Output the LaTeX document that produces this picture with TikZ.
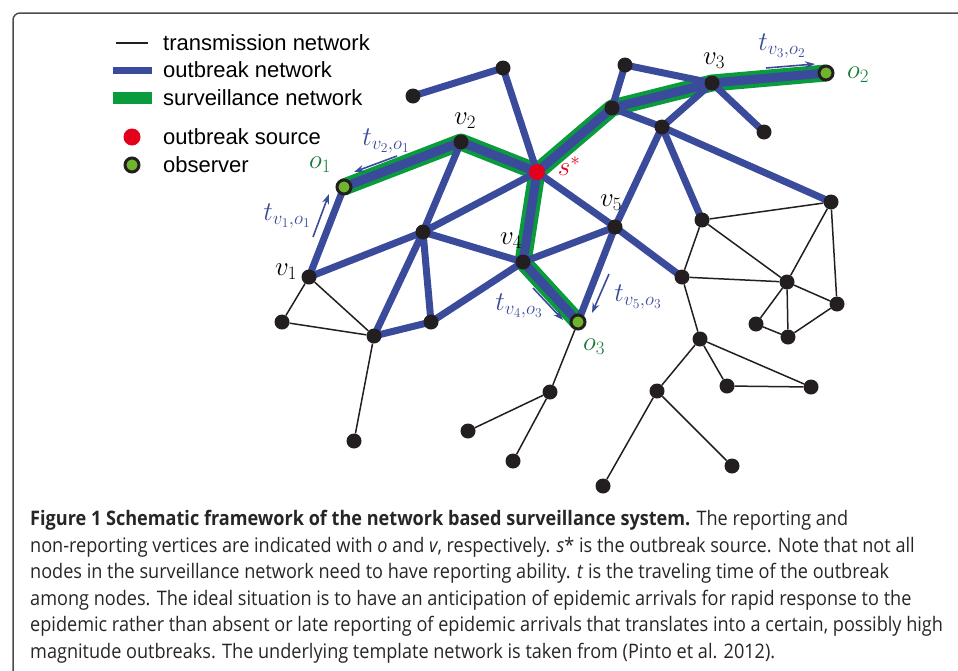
\RequirePackage{fix-cm}
\documentclass[tikz,border=0pt]{standalone}
\usepackage{fontspec}
\usetikzlibrary{arrows.meta}
\newfontfamily\legendfont{Liberation Sans}
\newfontfamily\capfont[FakeStretch=0.905]{Open Sans}
\definecolor{obblue}{RGB}{59,75,155}
\definecolor{svgreen}{RGB}{10,155,60}
\definecolor{labgreen}{RGB}{25,120,55}
\definecolor{srcred}{RGB}{226,0,26}
\definecolor{obsgreen}{RGB}{110,180,45}
\definecolor{vertblack}{RGB}{35,31,32}
\pgfdeclarelayer{background}
\pgfsetlayers{background,main}

\begin{document}
\begin{tikzpicture}[x=1pt,y=-1pt,
  vert/.style={circle,fill=vertblack,inner sep=0pt,minimum size=15pt},
  source/.style={circle,fill=srcred,inner sep=0pt,minimum size=16pt},
  observer/.style={circle,fill=obsgreen,draw=vertblack,line width=3pt,inner sep=0pt,minimum size=14pt},
  trans/.style={vertblack,line width=1.5pt},
  outbreak/.style={obblue,line width=7pt},
  surv/.style={svgreen,line width=17pt,line join=round},
  survblue/.style={obblue,line width=9pt,line join=round},
  travel/.style={obblue,line width=1.6pt,-{Stealth[length=10pt,width=7pt]}},
  lab/.style={font=\fontsize{27}{30}\selectfont,inner sep=0pt},
  legtext/.style={font=\legendfont\fontsize{22}{24}\selectfont,anchor=west,inner sep=0pt}]
\useasboundingbox (0,0) rectangle (958,670);

% Frame
\draw[black!70,line width=1.5pt,rounded corners=7pt] (13,671) -- (13,13) -- (959,13);

% Define vertices
\node[source] (s) at (537,172) {};
\node[vert] (v1) at (309,277) {};
\node[vert] (v2) at (461,142) {};
\node[vert] (v3) at (712,83) {};
\node[vert] (v4) at (523,262) {};
\node[vert] (v5) at (615,227) {};
\node[vert] (k1) at (413,96) {};
\node[vert] (k2) at (503,68) {};
\node[vert] (k3) at (423,232) {};
\node[vert] (k4) at (282,322) {};
\node[vert] (k5) at (374,336) {};
\node[vert] (k6) at (431,322) {};
\node[vert] (k7) at (354,441) {};
\node[vert] (k8) at (612,108) {};
\node[vert] (k9) at (625,65) {};
\node[vert] (k10) at (662,127) {};
\node[vert] (k11) at (764,132) {};
\node[vert] (k12) at (831,202) {};
\node[vert] (k13) at (702,220) {};
\node[vert] (k14) at (682,277) {};
\node[vert] (k15) at (787,282) {};
\node[vert] (k16) at (837,304) {};
\node[vert] (k17) at (756,324) {};
\node[vert] (k18) at (788,337) {};
\node[vert] (k19) at (700,339) {};
\node[vert] (k20) at (727,386) {};
\node[vert] (k21) at (811,387) {};
\node[vert] (k22) at (657,391) {};
\node[vert] (k23) at (732,466) {};
\node[vert] (k24) at (603,486) {};
\node[vert] (k25) at (550,392) {};
\node[vert] (k26) at (468,431) {};
\node[vert] (k27) at (513,461) {};
\node[observer] (o1) at (344,187) {};
\node[observer] (o2) at (826,73) {};
\node[observer] (o3) at (578,322) {};

\begin{pgfonlayer}{background}
% Surveillance network (green band)
\draw[surv] (o1.center) -- (v2.center) -- (s.center) -- (v4.center) -- (o3.center);
\draw[surv] (s.center) -- (k8.center) -- (v3.center) -- (o2.center);

% Outbreak network (blue)
\draw[outbreak] (k1.center) -- (k2.center) -- (s.center);
\draw[outbreak] (v1.center) -- (o1.center);
\draw[outbreak] (v2.center) -- (k3.center) -- (v1.center);
\draw[outbreak] (k3.center) -- (s.center);
\draw[outbreak] (k3.center) -- (v4.center);
\draw[outbreak] (k3.center) -- (k5.center) -- (k6.center) -- (k3.center);
\draw[outbreak] (k6.center) -- (v4.center);
\draw[outbreak] (v4.center) -- (v5.center);
\draw[outbreak] (s.center) -- (v5.center) -- (k14.center);
\draw[outbreak] (v5.center) -- (o3.center);
\draw[outbreak] (v5.center) -- (k10.center);
\draw[outbreak] (k8.center) -- (k9.center) -- (v3.center);
\draw[outbreak] (v3.center) -- (k11.center);
\draw[outbreak] (v3.center) -- (k10.center) -- (k8.center);
\draw[outbreak] (k10.center) -- (k12.center);
\draw[outbreak] (k10.center) -- (k13.center);

% Outbreak edges inside the surveillance band
\draw[survblue] (o1.center) -- (v2.center) -- (s.center) -- (v4.center) -- (o3.center);
\draw[survblue] (s.center) -- (k8.center) -- (v3.center) -- (o2.center);

% Transmission network (thin black)
\draw[trans] (v1) -- (k4) -- (k5) -- (v1);
\draw[trans] (k5) -- (k7);
\draw[trans] (o3) -- (k25) -- (k26);
\draw[trans] (k25) -- (k27);
\draw[trans] (k13) -- (k12);
\draw[trans] (k13) -- (k14);
\draw[trans] (k13) -- (k15);
\draw[trans] (k14) -- (k15);
\draw[trans] (k14) -- (k19);
\draw[trans] (k12) -- (k15);
\draw[trans] (k12) -- (k16);
\draw[trans] (k15) -- (k16);
\draw[trans] (k15) -- (k17) -- (k18) -- (k16);
\draw[trans] (k15) -- (k18);
\draw[trans] (k19) -- (k20) -- (k21) -- (k19);
\draw[trans] (k19) -- (k22) -- (k23);
\draw[trans] (k22) -- (k24);
\end{pgfonlayer}

% Vertex labels
\node[lab] (lv1) at (286,272) {$v_1$};
\node[lab] (lv2) at (465,121) {$v_2$};
\node[lab] (lv3) at (714,61) {$v_3$};
\node[lab] (lv4) at (511,241) {$v_4$};
\node[lab] (lv5) at (611,203) {$v_5$};
\node[lab,text=srcred] (ls) at (569,166) {$s^*$};
\node[lab,text=labgreen] (lo1) at (320,165) {$o_1$};
\node[lab,text=labgreen] (lo2) at (858,75) {$o_2$};
\node[lab,text=labgreen] (lo3) at (594,347) {$o_3$};

% Traveling times
\coordinate (a1) at (397,156); \coordinate (b1) at (354,172);
\coordinate (a2) at (313,237); \coordinate (b2) at (329,194);
\coordinate (a3) at (766,68);  \coordinate (b3) at (815,64);
\coordinate (a4) at (533,288); \coordinate (b4) at (563,320);
\coordinate (a5) at (609,274); \coordinate (b5) at (592,313);
\draw[travel] (a1) -- (b1);
\draw[travel] (a2) -- (b2);
\draw[travel] (a3) -- (b3);
\draw[travel] (a4) -- (b4);
\draw[travel] (a5) -- (b5);
\node[lab,text=obblue] (t21) at (386,141) {$t_{v_2,o_1}$};
\node[lab,text=obblue] (t11) at (287,216) {$t_{v_1,o_1}$};
\node[lab,text=obblue] (t32) at (782,46) {$t_{v_3,o_2}$};
\node[lab,text=obblue] (t43) at (519,306) {$t_{v_4,o_3}$};
\node[lab,text=obblue] (t53) at (638,297) {$t_{v_5,o_3}$};

% Legend
\coordinate (g1a) at (116,43); \coordinate (g1b) at (148,43);
\coordinate (g2a) at (113,70); \coordinate (g2b) at (152,70);
\coordinate (g3a) at (113,98); \coordinate (g3b) at (152,98);
\draw[trans] (g1a) -- (g1b);
\draw[outbreak] (g2a) -- (g2b);
\draw[svgreen,line width=12pt] (g3a) -- (g3b);
\node[source,minimum size=17pt] (gsrc) at (132,137) {};
\node[observer] (gobs) at (132,165) {};
\node[legtext] (lt1) at (163,43) {transmission network};
\node[legtext] (lt2) at (163,70) {outbreak network};
\node[legtext] (lt3) at (163,98) {surveillance network};
\node[legtext] (lt4) at (163,137) {outbreak source};
\node[legtext] (lt5) at (163,165) {observer};

% Caption
\node[anchor=north west,inner sep=0pt,align=left,
  font=\capfont\fontsize{20}{26.6}\selectfont,text=black!85] (cap) at (30,510)
  {\textbf{Figure 1 Schematic framework of the network based surveillance system.} The reporting and\\
   non-reporting vertices are indicated with \textit{o} and \textit{v}, respectively. \textit{s}* is the outbreak source. Note that not all\\
   nodes in the surveillance network need to have reporting ability. \textit{t} is the traveling time of the outbreak\\
   among nodes. The ideal situation is to have an anticipation of epidemic arrivals for rapid response to the\\
   epidemic rather than absent or late reporting of epidemic arrivals that translates into a certain, possibly high\\
   magnitude outbreaks. The underlying template network is taken from (Pinto et al. 2012).};

\end{tikzpicture}
\end{document}
